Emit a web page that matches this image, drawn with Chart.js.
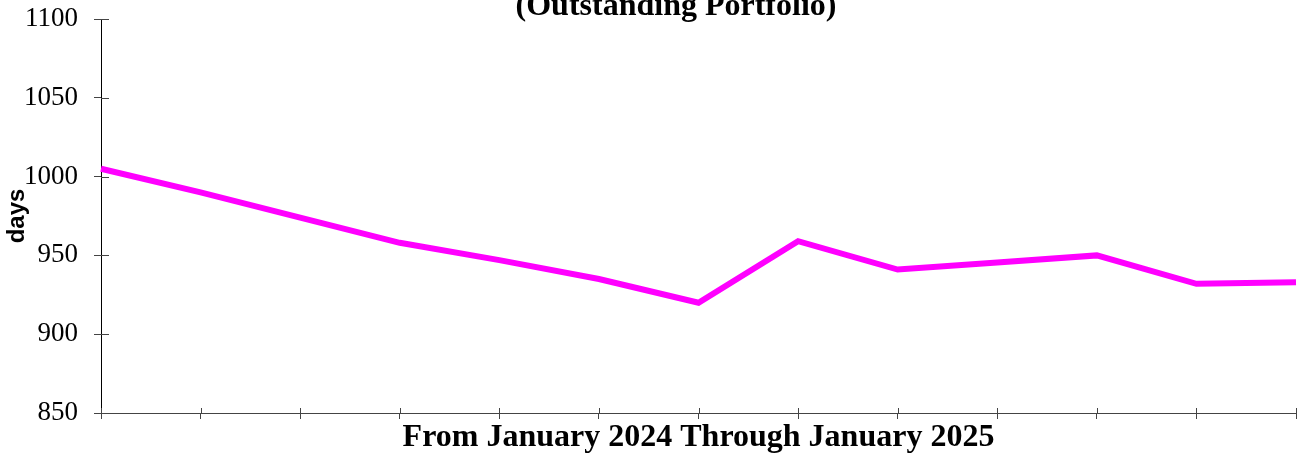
<!DOCTYPE html>
<html>
<head>
<meta charset="utf-8">
<script src="https://cdn.jsdelivr.net/npm/chart.js@4/dist/chart.umd.min.js"></script>
<style>
    html, body { margin: 0; padding: 0; background: #fff; }
    #wrap { width: 1298px; height: 457px; position: relative; }
</style>
</head>
<body>
<div id="wrap"><canvas id="days-chart"></canvas></div>
<script>
// Data
const months = ['Jan 2024', 'Feb 2024', 'Mar 2024', 'Apr 2024', 'May 2024', 'Jun 2024', 'Jul 2024',
    'Aug 2024', 'Sep 2024', 'Oct 2024', 'Nov 2024', 'Dec 2024', 'Jan 2025'];
const daysValues = [1005, 990, 974, 958, 947, 935, 920, 959, 941, 945.5, 950, 932, 933];
const yTicks = [850, 900, 950, 1000, 1050, 1100];

const chartTitle = '(Outstanding Portfolio)';
const xTitle = 'From January 2024 Through January 2025';
const yTitle = 'days';

// Title at the top is partly cut off in the reference, so draw it by hand
const topTitle = {
    id: 'topTitle',
    afterDraw(chart) {
        const ctx = chart.ctx;
        ctx.save();
        ctx.fillStyle = '#000';
        ctx.font = 'bold 32px "Liberation Serif"';
        ctx.textAlign = 'center';
        ctx.textBaseline = 'alphabetic';
        ctx.fillText(chartTitle, 676, 15);
        ctx.restore();
    }
};

// Tick marks cross the axes, so add the inner half
const innerTicks = {
    id: 'innerTicks',
    afterDraw(chart) {
        const ctx = chart.ctx;
        const x = chart.scales.x;
        const y = chart.scales.y;
        ctx.save();
        ctx.lineWidth = 1;
        ctx.strokeStyle = '#444';
        ctx.beginPath();
        y.ticks.forEach((t, i) => {
            const py = Math.round(y.getPixelForTick(i)) + 0.5;
            ctx.moveTo(y.right, py);
            ctx.lineTo(y.right + 8, py);
        });
        x.ticks.forEach((t, i) => {
            const px = Math.round(x.getPixelForTick(i)) + 0.5;
            ctx.moveTo(px, x.top);
            ctx.lineTo(px, x.top - 5);
        });
        ctx.stroke();
        ctx.restore();
    }
};

const ctx = document.getElementById('days-chart');
new Chart(ctx, {
    type: 'line',
    data: {
        labels: months,
        datasets: [{
            label: yTitle,
            data: daysValues,
            borderColor: '#ff00ff',
            backgroundColor: '#ff00ff',
            borderWidth: 6,
            borderJoinStyle: 'miter',
            tension: 0,
            fill: false,
            pointRadius: 0
        }]
    },
    options: {
        responsive: true,
        maintainAspectRatio: false,
        animation: false,
        layout: {
            padding: { top: 19, right: 2, left: 0, bottom: 0 }
        },
        plugins: {
            legend: { display: false },
            tooltip: { enabled: false }
        },
        scales: {
            x: {
                offset: false,
                grid: {
                    drawOnChartArea: false,
                    drawTicks: true,
                    tickLength: 6,
                    color: '#444'
                },
                border: { display: true, color: '#444', width: 1 },
                ticks: { display: false },
                title: {
                    display: true,
                    text: xTitle,
                    color: '#000',
                    font: { family: 'Liberation Serif', size: 32, weight: 'bold' },
                    padding: { top: 0, bottom: 0 }
                },
                afterFit: scale => {
                    scale.height = 44;
                    scale.paddingLeft = 0;
                    scale.paddingRight = 0;
                }
            },
            y: {
                min: yTicks[0],
                max: yTicks[yTicks.length - 1],
                afterBuildTicks: scale => { scale.ticks = yTicks.map(v => ({ value: v })); },
                grid: {
                    drawOnChartArea: false,
                    drawTicks: true,
                    tickLength: 7,
                    color: '#444'
                },
                border: { display: true, color: '#000', width: 1 },
                ticks: {
                    color: '#000',
                    padding: 16,
                    font: { family: 'Liberation Serif', size: 27 },
                    callback: value => String(value)
                },
                title: {
                    display: true,
                    text: yTitle,
                    color: '#000',
                    font: { family: 'Liberation Sans', size: 24, weight: 'bold' },
                    padding: { top: 3, bottom: 0 }
                },
                afterFit: scale => {
                    scale.width = 101;
                    scale.paddingTop = 0;
                    scale.paddingBottom = 0;
                }
            }
        }
    },
    plugins: [topTitle, innerTicks]
});
</script>
</body>
</html>
